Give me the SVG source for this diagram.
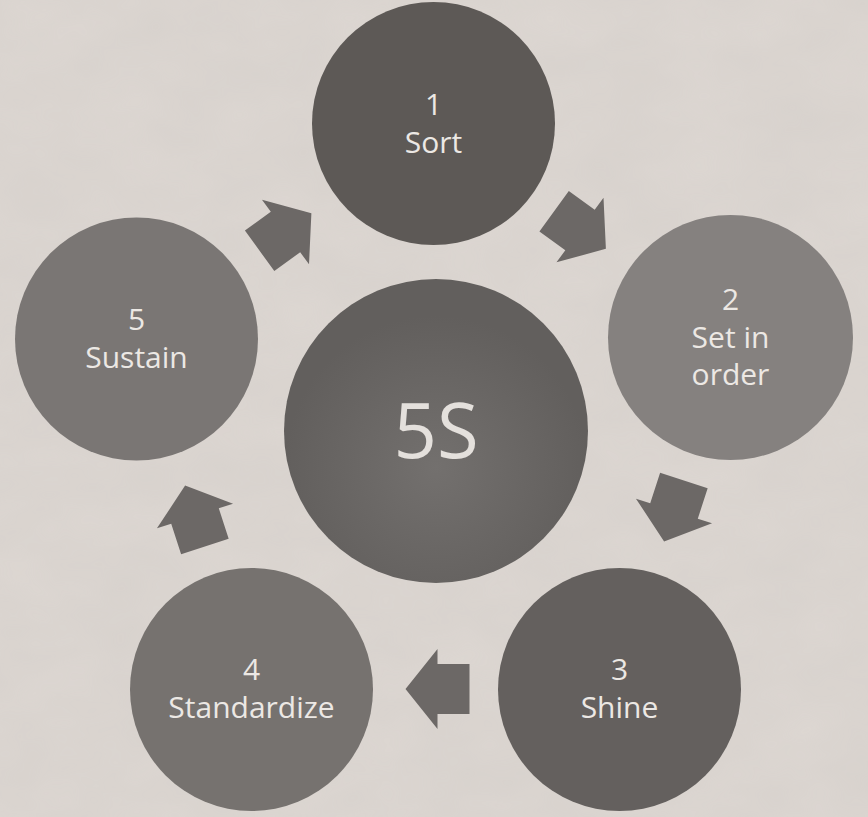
<svg xmlns="http://www.w3.org/2000/svg" width="868" height="817" viewBox="0 0 868 817">
  <defs>
    <style>
      .lbl { font-family: "Open Sans", "Liberation Sans", sans-serif; font-size: 30px; fill: #ece8e4; text-anchor: middle; }
      .big { font-family: "Open Sans", "Liberation Sans", sans-serif; font-size: 76px; fill: #e4e0dc; text-anchor: middle; }
      .arrow { fill: #6c6866; }
    </style>
    <filter id="paper" x="0" y="0" width="100%" height="100%">
      <feTurbulence type="fractalNoise" baseFrequency="0.012 0.02" numOctaves="3" seed="4" result="n"/>
      <feColorMatrix in="n" type="matrix" values="0 0 0 0 0.5  0 0 0 0 0.48  0 0 0 0 0.46  0 0 0 0.35 0"/>
    </filter>
    <radialGradient id="glow" cx="0.5" cy="0.62" r="0.5">
      <stop offset="0" stop-color="#73706e"/>
      <stop offset="1" stop-color="#625f5d"/>
    </radialGradient>
    <path id="arr" d="M-32,-25 H0 V-40 L32,0 L0,40 V25 H-32 Z"/>
  </defs>

  <rect width="868" height="817" fill="#ddd7d2"/>
  <rect width="868" height="817" filter="url(#paper)" opacity="0.5"/>

  <g id="connectors">
    <use href="#arr" class="arrow" transform="translate(285.5,232) rotate(-36)"/>
    <use href="#arr" class="arrow" transform="translate(580,230) rotate(36)"/>
    <use href="#arr" class="arrow" transform="translate(674,511) rotate(108)"/>
    <use href="#arr" class="arrow" transform="translate(437.5,689) rotate(180)"/>
    <use href="#arr" class="arrow" transform="translate(195,516) rotate(-108)"/>
  </g>

  <g id="center">
    <circle cx="436" cy="431" r="152" fill="url(#glow)"/>
    <text class="big" x="436" y="458">5S</text>
  </g>

  <g id="node1">
    <circle cx="433.5" cy="123.5" r="121.5" fill="#5d5956"/>
    <text class="lbl" x="433.5" y="115">1</text>
    <text class="lbl" x="433.5" y="153">Sort</text>
  </g>

  <g id="node2">
    <circle cx="730.5" cy="337.5" r="122.5" fill="#85817f"/>
    <text class="lbl" x="730.5" y="310">2</text>
    <text class="lbl" x="730.5" y="348">Set in</text>
    <text class="lbl" x="730.5" y="385">order</text>
  </g>

  <g id="node3">
    <circle cx="619.5" cy="689.5" r="121.5" fill="#64605e"/>
    <text class="lbl" x="619.5" y="680">3</text>
    <text class="lbl" x="619.5" y="718">Shine</text>
  </g>

  <g id="node4">
    <circle cx="251.5" cy="689.5" r="121.5" fill="#76726f"/>
    <text class="lbl" x="251.5" y="680">4</text>
    <text class="lbl" x="251.5" y="718">Standardize</text>
  </g>

  <g id="node5">
    <circle cx="136.5" cy="339" r="121.5" fill="#7a7674"/>
    <text class="lbl" x="136.5" y="330">5</text>
    <text class="lbl" x="136.5" y="368">Sustain</text>
  </g>
</svg>
